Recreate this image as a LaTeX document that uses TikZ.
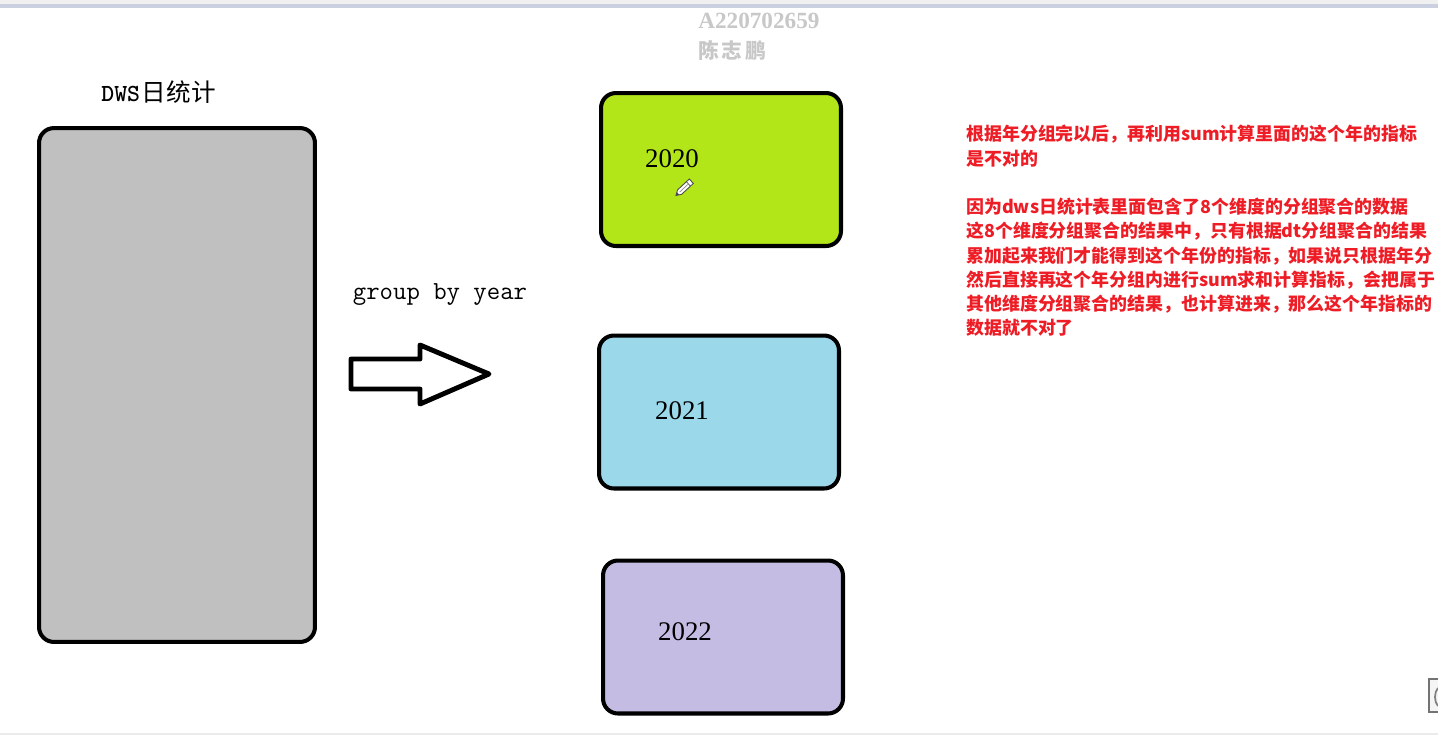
\documentclass[tikz,border=0pt]{standalone}
\usepackage{fontspec}
\newfontfamily\cjk{Noto Sans CJK SC}
\newfontfamily\wmark{Liberation Serif}
\usetikzlibrary{arrows.meta}
\definecolor{yeargreen}{HTML}{B3E619}
\definecolor{yearblue}{HTML}{9AD8EA}
\definecolor{yearpurple}{HTML}{C4BCE2}
\definecolor{tablegray}{HTML}{C0C0C0}
\definecolor{notered}{HTML}{EE1C25}
\definecolor{topbar}{HTML}{CBD0E0}
\definecolor{markgray}{HTML}{C8C8C8}
\tikzset{
  yearbox/.style={draw=black, line width=2.3pt, rounded corners=8.5pt, inner sep=0pt, outer sep=0pt, minimum width=4.8cm, minimum height=3.06cm},
  yearlabel/.style={inner sep=0pt, font=\fontsize{15.3}{15.3}\selectfont\wmark},
  marktext/.style={anchor=west, inner sep=0pt, text=markgray, font=\fontsize{13.2}{13.2}\selectfont\wmark\bfseries}
}
\begin{document}
\begin{tikzpicture}[x=0.02cm, y=-0.02cm]
\useasboundingbox (0,0) rectangle (1438,735);
\fill[white] (0,0) rectangle (1438,735);
\fill[black!6] (0,0) rectangle (1438,4);
\fill[topbar] (0,4) rectangle (1438,8);
\fill[black!8] (0,733) rectangle (1438,735);
\node[marktext] (markid) at (698,21) {A220702659};
\node[marktext, font=\fontsize{11.8}{12}\selectfont\cjk\bfseries] (markname) at (698,51) {陈\hspace{1.6pt}志\hspace{1.6pt}鹏};
\node[draw=black, fill=tablegray, line width=2.3pt, rounded corners=8.5pt, inner sep=0pt, outer sep=0pt, minimum width=5.52cm, minimum height=10.28cm] (dws) at (177,385) {};
\node[inner sep=0pt, anchor=west, font=\fontsize{14}{14}\selectfont\ttfamily\bfseries] (dwstitle) at (101,92) {DWS{\cjk\mdseries\fontsize{14}{14}\selectfont\hspace{1pt}日统计}};
\node[yearbox, fill=yeargreen] (y2020) at (721,169.5) {};
\node[yearbox, fill=yearblue] (y2021) at (719,412) {};
\node[yearbox, fill=yearpurple] (y2022) at (723,637) {};
\node[yearlabel] (t2020) at (672,159) {2020};
\node[yearlabel] (t2021) at (682,411) {2021};
\node[yearlabel] (t2022) at (685,632) {2022};
\node[inner sep=0pt, font=\fontsize{14.8}{14.8}\selectfont\ttfamily] (groupby) at (440,295) {group by year};
\draw[line width=2.8pt, line join=round, fill=white] (351,359) -- (420,359) -- (420,345) -- (489,374) -- (420,404) -- (420,389) -- (351,389) -- cycle;
\begin{scope}[shift={(684,188)}, rotate=43]
\filldraw[draw=black!70, fill=white, line width=0.5pt] (-11,0) -- (-6,-3) -- (10,-3) -- (10,3) -- (-6,3) -- cycle;
\fill[black!70] (-11,0) -- (-8,-1.8) -- (-8,1.8) -- cycle;
\draw[black!70, line width=0.4pt] (6,-3) -- (6,3);
\draw[black!45, line width=0.4pt] (-6,0) -- (6,0);
\end{scope}
\node[anchor=north west, align=left, inner sep=0pt, text=notered, font=\fontsize{10.2}{13.8}\selectfont\cjk\bfseries] (note) at (966,125) {根据年分组完以后，再利用sum计算里面的这个年的指标\\
是不对的\\[13.8pt]
因为dws日统计表里面包含了8个维度的分组聚合的数据\\
这8个维度分组聚合的结果中，只有根据dt分组聚合的结果\\
累加起来我们才能得到这个年份的指标，如果说只根据年分\\
然后直接再这个年分组内进行sum求和计算指标，会把属于\\
其他维度分组聚合的结果，也计算进来，那么这个年指标的\\
数据就不对了};
\filldraw[draw=black!55, fill=black!4, line width=0.8pt] (1438,679) -- (1429,679) -- (1429,712) -- (1438,712);
\draw[black!50, line width=1pt] (1438,688) .. controls (1434,692) and (1434,702) .. (1438,706);
\end{tikzpicture}
\end{document}
